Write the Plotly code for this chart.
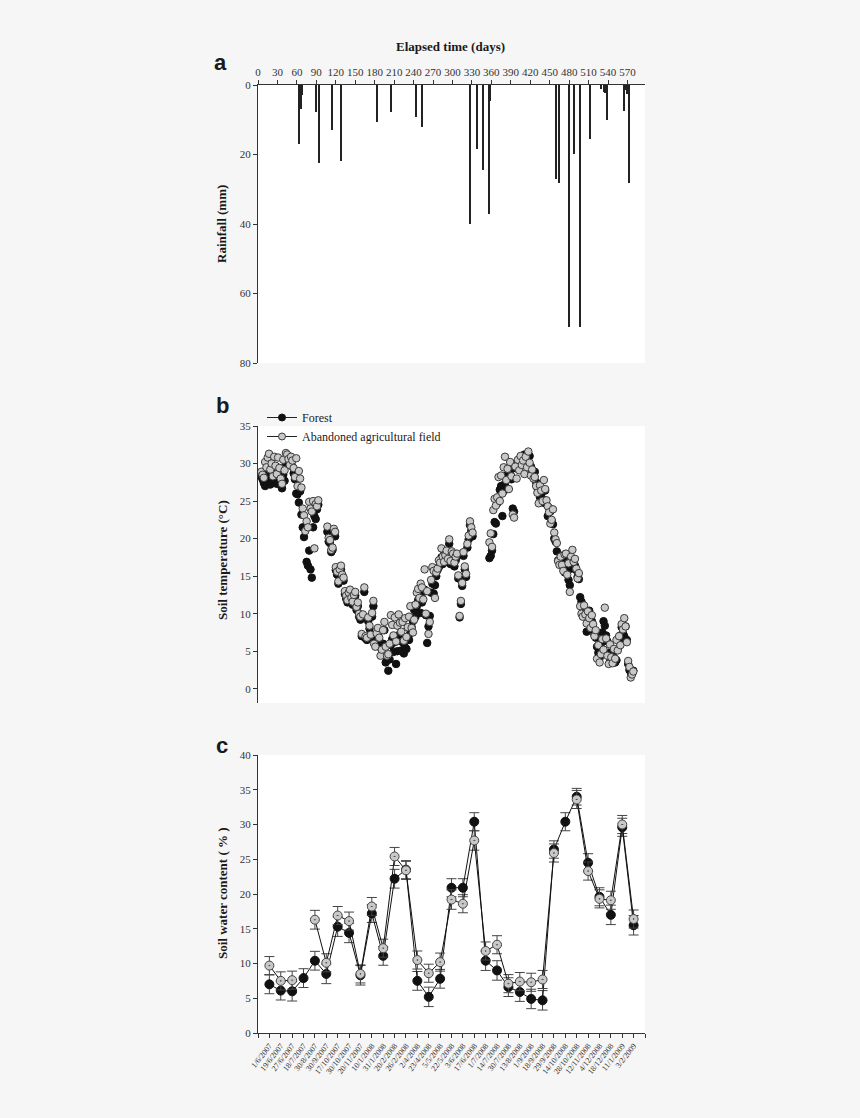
import plotly.graph_objects as go

# ---------------- Panel a: rainfall ----------------
rain_day = [64, 66, 68, 89, 94.5, 114.6, 128, 183.4, 206, 244.5, 252.7, 328, 338.5, 346.7,
            356.4, 358, 460, 464.3, 480.2, 487.4, 497.7, 512.6, 529.5, 533.6, 535.2, 538.3,
            565, 567.5, 569.6, 572.7]
rain_mm = [17.0, 6.8, 3.0, 7.7, 22.5, 12.9, 22.0, 10.7, 7.7, 9.3, 12.2, 40.0, 18.5, 24.4,
           37.1, 4.5, 27.1, 28.1, 69.7, 19.9, 69.7, 15.6, 1.1, 2.1, 2.4, 10.2,
           7.4, 1.4, 2.7, 28.3]
day_ticks = [0, 30, 60, 90, 120, 150, 180, 210, 240, 270, 300, 330, 360, 390, 420, 450,
             480, 510, 540, 570]

# ---------------- Panel b: soil temperature (per segment) ----------------
seg_days = [
    [5, 7, 9, 11, 13, 15, 17, 19, 21, 23, 25, 27, 29, 31, 33, 35, 37, 39, 41, 43, 45, 47, 49,
     51, 53, 55, 57, 59, 61, 63, 65, 67, 69, 71, 73, 75, 77, 79, 81, 83, 85, 87, 89, 91, 93],
    [107, 109, 111, 113, 115, 117, 119],
    [120, 122, 124, 126, 128, 130, 132, 134, 136, 138, 140, 142, 144, 146, 148, 150, 152, 154,
     156, 158, 160, 162, 164, 166, 168, 170, 172, 174, 176, 178],
    [179, 181, 183, 185, 187, 189, 191, 193, 195, 197, 199, 201, 203, 205, 207, 209, 211, 213,
     215, 217, 219, 221, 223, 225, 227, 229, 231, 233, 235, 237, 239, 241],
    [243, 245, 247, 249, 251, 253, 255, 257, 259, 261, 263, 265, 267, 269, 271, 273, 275, 277,
     279, 281, 283, 285, 287, 289],
    [291, 293, 295, 297, 299, 301, 303, 305, 307, 309, 311, 313, 315, 317, 319, 321, 323, 325,
     327, 329, 331],
    [357, 359, 361, 363, 365, 367, 369, 371, 373, 375, 377, 379, 381, 383, 385, 387, 389, 391,
     393, 395, 397, 399, 401, 403, 405, 407, 409, 411, 413, 415, 417, 419, 421, 423, 425],
    [427, 429, 431, 433, 435, 437, 439, 441, 443, 445, 447, 449, 451, 453, 455, 457, 459, 461,
     463, 465],
    [467, 469, 471, 473, 475, 477, 479, 481, 483, 485, 487, 489, 491, 493, 495, 497, 499],
    [501, 503, 505, 507, 509, 511, 513, 515, 517, 519, 521, 523, 525, 527, 529, 531, 533, 535,
     537, 539, 541, 543, 545, 547, 549, 551, 553, 555, 557, 559, 561, 563, 565, 567, 569, 571,
     573, 575, 577, 579],
]
seg_forest = [
    [28.3, 27.9, 27.4, 27.0, 27.8, 28.6, 29.0, 27.2, 28.0, 28.4, 27.6, 28.8, 27.3, 28.2, 29.4,
     27.9, 26.7, 28.5, 27.7, 30.1, 30.5, 31.0, 30.2, 30.8, 29.6, 28.7, 27.9, 26.0, 25.9, 24.8,
     26.3, 23.2, 21.5, 20.2, 21.5, 16.9, 16.4, 18.4, 15.9, 14.8, 21.5, 23.0, 22.6, 23.9, 24.5],
    [20.9, 19.6, 19.4, 18.2, 18.5, 20.7, 20.3],
    [15.8, 15.2, 14.0, 15.4, 15.9, 14.8, 14.4, 12.6, 12.0, 11.5, 12.4, 12.8, 11.7, 11.2, 12.1,
     12.4, 10.5, 11.0, 9.6, 9.2, 7.0, 9.5, 12.9, 6.7, 6.5, 9.0, 8.0, 6.9, 9.6, 11.0],
    [7.0, 6.5, 5.8, 7.2, 6.3, 5.5, 4.6, 6.0, 7.8, 3.5, 4.0, 2.4, 3.9, 5.8, 6.6, 4.9, 6.2, 3.3,
     5.0, 6.9, 7.3, 5.1, 6.2, 4.7, 5.5, 5.3, 6.8, 6.5, 7.4, 8.2, 9.0, 10.5],
    [9.6, 11.0, 11.8, 12.5, 10.1, 11.5, 12.9, 13.2, 9.8, 6.1, 8.3, 9.7, 12.8, 14.0, 12.7, 13.8,
     15.0, 15.8, 16.2, 16.9, 17.5, 16.6, 17.9, 18.3],
    [17.9, 16.9, 19.3, 16.6, 17.8, 17.5, 16.3, 17.1, 17.6, 14.7, 9.5, 11.3, 13.7, 17.7, 15.9,
     14.9, 18.8, 19.9, 21.8, 21.0, 20.3],
    [17.4, 17.7, 18.4, 20.6, 22.2, 22.0, 24.7, 25.3, 26.5, 27.0, 23.0, 26.3, 27.3, 28.0, 28.5,
     29.2, 28.7, 27.9, 24.0, 23.6, 29.4, 30.0, 29.3, 30.2, 30.8, 30.6, 31.0, 31.2, 30.4, 30.7,
     30.0, 31.0, 29.6, 29.0, 28.9],
    [28.9, 27.5, 26.8, 27.2, 25.5, 26.0, 24.8, 25.2, 26.4, 24.6, 23.0, 24.1, 23.6, 22.4, 21.9,
     20.0, 19.6, 18.3, 17.1, 16.8],
    [17.0, 16.8, 16.2, 15.5, 17.3, 16.5, 14.5, 13.8, 16.0, 16.8, 17.0, 16.4, 15.8, 14.9, 14.6,
     12.2, 11.6],
    [10.7, 10.2, 9.8, 7.6, 9.5, 10.4, 8.6, 9.0, 7.8, 7.2, 6.8, 5.6, 4.8, 4.1, 6.0, 7.5, 9.0,
     8.4, 7.1, 6.3, 4.8, 4.0, 3.7, 4.5, 4.1, 3.5, 3.8, 5.3, 6.4, 7.1, 8.2, 7.4, 7.0, 8.3, 6.5,
     3.3, 2.5, 2.2, 2.0, 2.4],
]
seg_abandoned = [
    [28.9, 28.5, 28.1, 30.2, 29.5, 30.8, 31.3, 29.2, 30.0, 28.3, 30.9, 29.7, 28.6, 30.8, 29.4,
     28.0, 27.3, 30.5, 29.1, 31.4, 31.2, 30.6, 29.8, 30.9, 30.4, 29.4, 28.2, 30.7, 27.0, 29.0,
     28.0, 26.8, 24.0, 23.1, 21.0, 22.3, 21.5, 24.9, 24.0, 23.6, 25.0, 18.7, 24.6, 24.3, 25.1],
    [21.6, 20.1, 19.8, 18.5, 18.8, 21.3, 20.9],
    [16.2, 15.6, 14.3, 15.9, 16.4, 15.2, 14.8, 13.0, 12.4, 11.8, 12.8, 13.2, 12.1, 11.6, 12.5,
     12.9, 10.9, 11.5, 10.0, 9.6, 7.3, 9.9, 13.5, 7.0, 6.8, 9.5, 8.4, 7.2, 10.1, 11.7],
    [6.0, 5.6, 7.4, 8.1, 6.8, 4.4, 5.2, 7.8, 8.9, 5.6, 4.4, 4.6, 6.0, 9.8, 8.5, 7.1, 9.5, 6.3,
     8.4, 9.9, 8.8, 7.6, 8.9, 6.4, 9.4, 6.9, 8.2, 9.6, 11.0, 8.1, 7.5, 9.2],
    [11.2, 12.8, 13.3, 12.1, 14.0, 13.5, 11.9, 15.9, 10.0, 13.0, 7.3, 8.9, 14.5, 16.2, 15.7,
     12.1, 15.5, 16.0, 17.1, 16.8, 18.7, 17.6, 16.9, 17.8],
    [18.4, 17.3, 19.9, 17.0, 18.3, 18.0, 16.8, 17.6, 18.0, 15.1, 9.7, 11.7, 14.1, 18.2, 16.3,
     15.3, 19.3, 20.4, 22.3, 21.5, 20.8],
    [19.5, 20.7, 18.9, 23.8, 25.3, 24.4, 25.5, 28.2, 25.0, 28.4, 26.0, 29.5, 30.9, 27.8, 29.3,
     26.6, 30.2, 28.3, 23.2, 22.8, 29.6, 28.0, 30.5, 29.1, 31.0, 29.8, 30.4, 28.6, 30.9, 29.5,
     31.6, 30.1, 28.4, 29.2, 28.0],
    [28.2, 27.0, 26.1, 24.7, 27.1, 26.4, 25.0, 27.8, 26.6, 25.1, 24.3, 23.5, 22.0, 22.5, 23.9,
     20.8, 19.9, 19.4, 17.0, 16.5],
    [17.6, 16.5, 15.7, 17.9, 18.0, 15.2, 16.7, 12.9, 17.6, 18.5, 16.9, 17.3, 16.0, 14.7, 15.4,
     11.0, 10.0],
    [9.6, 11.1, 9.9, 8.7, 10.3, 9.4, 8.1, 9.8, 8.6, 7.0, 7.8, 4.0, 5.8, 3.5, 4.6, 6.6, 5.2,
     10.8, 6.7, 4.4, 3.3, 5.9, 4.2, 3.4, 5.3, 4.0, 6.5, 5.1, 7.0, 5.8, 8.6, 7.9, 9.4, 8.3, 6.2,
     3.7, 2.9, 1.5, 1.9, 2.3],
]

temp_day, temp_forest, temp_abandoned = [], [], []
for d, f, a in zip(seg_days, seg_forest, seg_abandoned):
    n = min(len(d), len(f), len(a))
    temp_day += d[:n]
    temp_forest += f[:n]
    temp_abandoned += a[:n]

# ---------------- Panel c: soil water content ----------------
swc_dates = ["1/6/2007", "19/6/2007", "27/6/2007", "18/7/2007", "30/8/2007", "30/9/2007",
             "17/10/2007", "30/10/2007", "20/11/2007", "10/1/2008", "31/1/2008", "20/2/2008",
             "26/2/2008", "2/4/2008", "23/4/2008", "5/5/2008", "22/5/2008", "3/6/2008",
             "17/6/2008", "1/7/2008", "14/7/2008", "30/7/2008", "13/8/2008", "1/9/2008",
             "18/9/2008", "29/9/2008", "14/10/2008", "28/10/2008", "12/11/2008", "4/12/2008",
             "18/12/2008", "11/1/2009", "3/2/2009"]
swc_forest = [7.0, 6.1, 6.0, 7.9, 10.4, 8.5, 15.3, 14.4, 8.3, 17.2, 11.1, 22.2, 23.5, 7.5, 5.2,
              7.8, 20.9, 20.9, 30.4, 10.4, 9.0, 6.6, 5.9, 4.9, 4.7, 26.4, 30.4, 34.0, 24.5, 19.6,
              17.0, 29.6, 15.5]
swc_forest_err = [1.35, 1.35, 1.4, 1.35, 1.35, 1.4, 1.4, 1.4, 1.4, 1.3, 1.35, 1.35, 1.3, 1.35,
                  1.4, 1.35, 1.3, 1.3, 1.3, 1.4, 1.4, 1.35, 1.35, 1.4, 1.4, 1.25, 1.3, 1.2, 1.3,
                  1.3, 1.4, 1.3, 1.4]
swc_abandoned = [9.7, 7.5, 7.6, None, 16.3, 10.1, 16.9, 16.1, 8.5, 18.2, 12.2, 25.4, 23.4, 10.5,
                 8.6, 10.2, 19.2, 18.6, 27.7, 11.8, 12.7, 7.1, 7.4, 7.3, 7.7, 25.9, None, 33.6,
                 23.3, 19.3, 19.1, 30.0, 16.4]
swc_abandoned_err = [1.3, 1.3, 1.3, 0, 1.35, 1.3, 1.3, 1.3, 1.3, 1.3, 1.3, 1.3, 1.3, 1.3, 1.3,
                     1.3, 1.4, 1.3, 1.4, 1.3, 1.3, 1.3, 1.3, 1.3, 1.3, 1.3, 0, 1.3, 1.3, 1.3,
                     1.3, 1.3, 1.3]
swc_x = list(range(len(swc_dates)))

SERIF = "Liberation Serif, Times New Roman, serif"
SANS = "Liberation Sans, Arial, sans-serif"
AX = "#333333"
W, H = 860, 1118


def py(px):
    return 1 - px / H


fig = go.Figure()

fig.add_trace(go.Bar(x=rain_day, y=rain_mm, width=2.0, marker=dict(color="#222222", line=dict(width=0)),
                     xaxis="x", yaxis="y", showlegend=False))

fig.add_trace(go.Scatter(x=temp_day, y=temp_forest, mode="markers", xaxis="x2", yaxis="y2",
                         marker=dict(size=7.5, color="#111111", line=dict(color="#111111", width=1)),
                         showlegend=False))
fig.add_trace(go.Scatter(x=temp_day, y=temp_abandoned, mode="markers", xaxis="x2", yaxis="y2",
                         marker=dict(size=7.5, color="#c8c8c8", line=dict(color="#3a3a3a", width=1)),
                         showlegend=False))
# legend entries
fig.add_trace(go.Scatter(x=[None], y=[None], mode="lines+markers", name="Forest", xaxis="x2", yaxis="y2",
                         line=dict(color="#222222", width=1),
                         marker=dict(size=7, color="#111111", line=dict(color="#111111", width=1))))
fig.add_trace(go.Scatter(x=[None], y=[None], mode="lines+markers", name="Abandoned agricultural field",
                         xaxis="x2", yaxis="y2", line=dict(color="#222222", width=1),
                         marker=dict(size=7, color="#c8c8c8", line=dict(color="#3a3a3a", width=1))))

fig.add_trace(go.Scatter(x=swc_x, y=swc_forest, mode="lines+markers", xaxis="x3", yaxis="y3",
                         line=dict(color="#111111", width=1),
                         marker=dict(size=9, color="#111111", line=dict(color="#111111", width=1)),
                         error_y=dict(type="data", array=swc_forest_err, color="#444444", thickness=1, width=5),
                         showlegend=False))
fig.add_trace(go.Scatter(x=swc_x, y=swc_abandoned, mode="lines+markers", xaxis="x3", yaxis="y3",
                         line=dict(color="#111111", width=1), connectgaps=False,
                         marker=dict(size=9, symbol="circle-dot", color="#c8c8c8",
                                     line=dict(color="#444444", width=1)),
                         error_y=dict(type="data", array=swc_abandoned_err, color="#444444", thickness=1, width=5),
                         showlegend=False))

xdom = [258 / W, 645 / W]
tickfont = dict(family=SERIF, size=11, color=AX)
common_y = dict(showline=True, linecolor=AX, linewidth=1, ticks="outside", ticklen=4, tickcolor=AX,
                tickfont=tickfont, showgrid=False, zeroline=False, automargin=False)

fig.update_layout(
    width=W, height=H,
    autosize=False,
    margin=dict(l=0, r=0, t=0, b=0, pad=0, autoexpand=False),
    paper_bgcolor="#f6f6f6",
    plot_bgcolor="#ffffff",
    bargap=0,
    xaxis=dict(domain=xdom, anchor="y", side="top", range=[0, 597], tickvals=day_ticks,
               showline=True, linecolor=AX, linewidth=1, ticks="outside", ticklen=4, tickcolor=AX,
               tickfont=tickfont, showgrid=False, zeroline=False, automargin=False),
    yaxis=dict(domain=[py(363), py(85)], anchor="x", range=[80, 0], tickvals=[0, 20, 40, 60, 80],
               **common_y),
    xaxis2=dict(domain=xdom, anchor="y2", range=[0, 597], visible=False, showgrid=False),
    yaxis2=dict(domain=[py(703), py(426)], anchor="x2", range=[-1.9, 35],
                tickvals=[0, 5, 10, 15, 20, 25, 30, 35], **common_y),
    xaxis3=dict(domain=xdom, anchor="y3", range=[-1, 33], tickmode="array",
                tickvals=list(range(-1, 34)),
                ticktext=[""] + swc_dates + [""],
                tickangle=-52, showline=True, linecolor=AX, linewidth=1, ticks="outside", ticklen=4,
                tickcolor=AX, tickfont=dict(family=SERIF, size=8, color=AX), showgrid=False,
                zeroline=False, automargin=False),
    yaxis3=dict(domain=[py(1033), py(755)], anchor="x3", range=[0, 40],
                tickvals=[0, 5, 10, 15, 20, 25, 30, 35, 40], **common_y),
    legend=dict(x=262 / W, y=py(403), xanchor="left", yanchor="top", bgcolor="rgba(0,0,0,0)",
                font=dict(family=SERIF, size=12, color="#222222"), tracegroupgap=0),
    showlegend=True,
)

ann = []


def add_text(text, x, y, size, family=SERIF, angle=0):
    ann.append(dict(text=text, x=x / W, y=py(y), xref="paper", yref="paper", xanchor="center",
                    yanchor="middle", showarrow=False, textangle=angle,
                    font=dict(family=family, size=size, color="#1a1a1a")))


add_text("<b>Elapsed time (days)</b>", 451, 46, 13)
add_text("<b>Rainfall (mm)</b>", 222, 224, 13, angle=-90)
add_text("<b>Soil temperature (°C)</b>", 222, 560, 13, angle=-90)
add_text("<b>Soil water content ( % )</b>", 222, 893, 13, angle=-90)
for letter, (lx, ly) in zip(["a", "b", "c"], [(220, 62), (222, 405), (222, 745)]):
    add_text("<b>%s</b>" % letter, lx, ly, 22, family=SANS)
fig.update_layout(annotations=ann)

fig.write_html("out.html", config={"responsive": False, "displayModeBar": False},
               post_script="document.body.style.margin='0';document.body.style.overflow='hidden';")
